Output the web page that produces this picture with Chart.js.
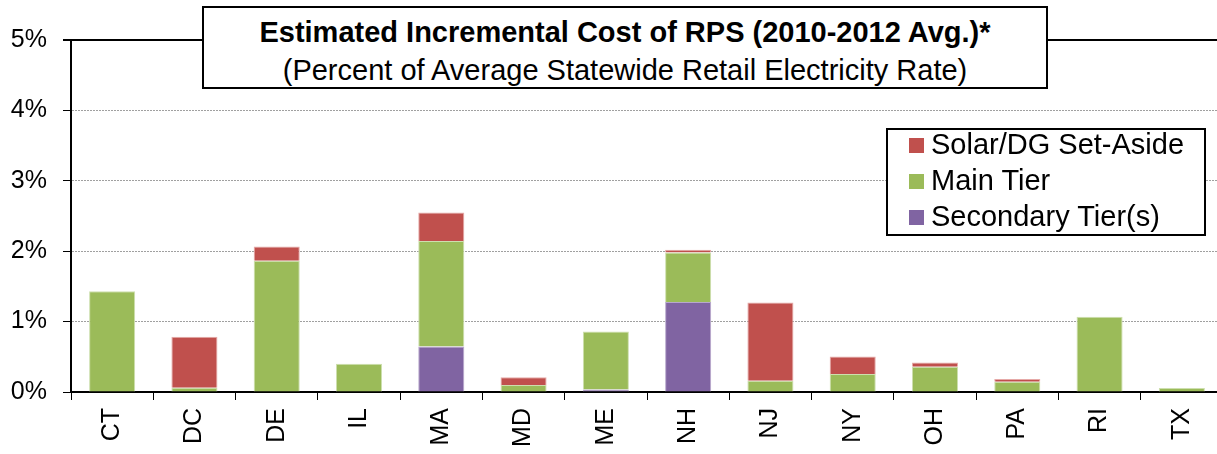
<!DOCTYPE html>
<html lang="en">
<head>
  <meta charset="UTF-8">
  <title>Estimated Incremental Cost of RPS</title>
  <script src="https://cdn.jsdelivr.net/npm/chart.js"></script>
  <style>
    body { margin: 0; overflow: hidden; background: #fff; font-family: 'Liberation Sans', Arial, sans-serif; }
    #wrap { position: relative; width: 1224px; height: 454px; }
    #titleBox {
      position: absolute; left: 202px; top: 6px; width: 842px; height: 79px;
      border: 2px solid #000; background: #fff; text-align: center; color: #000;
    }
    #titleBox .t1 { font-weight: bold; font-size: 29px; line-height: 38px; margin-top: 5px; white-space: nowrap; }
    #titleBox .t2 { font-size: 29px; line-height: 38px; white-space: nowrap; }
    #legendBox {
      position: absolute; left: 886px; top: 128px; width: 316px; height: 104px;
      border: 2px solid #000; background: #fff;
    }
    .item { position: absolute; left: 21px; height: 36px; font-size: 29px; line-height: 36px; color: #000; white-space: nowrap; }
    .item span.sw { display: inline-block; width: 15px; height: 15px; margin-right: 7px; vertical-align: 1px; }
  </style>
</head>
<body>
  <div id="wrap">
    <canvas id="grafica" width="1224" height="454"></canvas>
    <div id="titleBox">
      <div class="t1">Estimated Incremental Cost of RPS (2010-2012 Avg.)*</div>
      <div class="t2">(Percent of Average Statewide Retail Electricity Rate)</div>
    </div>
    <div id="legendBox"></div>
  </div>

  <script>
    // Datos (porcentaje de la tarifa)
    const states = ['CT', 'DC', 'DE', 'IL', 'MA', 'MD', 'ME', 'NH', 'NJ', 'NY', 'OH', 'PA', 'RI', 'TX'];
    const secondaryTier = [0, 0, 0, 0, 0.645, 0, 0.035, 1.28, 0, 0, 0, 0, 0, 0];
    const mainTier = [1.43, 0.06, 1.865, 0.40, 1.50, 0.10, 0.825, 0.70, 0.16, 0.255, 0.36, 0.146, 1.07, 0.057];
    const solarSetAside = [0, 0.725, 0.20, 0, 0.405, 0.11, 0, 0.04, 1.11, 0.25, 0.06, 0.04, 0, 0];
    const yTicks = [0, 1, 2, 3, 4, 5];

    const series = [
      { label: 'Secondary Tier(s)', data: secondaryTier, color: '#8064A2', edge: '#b7a8cc' },
      { label: 'Main Tier', data: mainTier, color: '#9BBB59', edge: '#cddfae' },
      { label: 'Solar/DG Set-Aside', data: solarSetAside, color: '#C0504D', edge: '#e6aaa8' }
    ];

    // Leyenda (orden inverso, como en la figura)
    const legendBox = document.getElementById('legendBox');
    series.slice().reverse().forEach((s, i) => {
      const d = document.createElement('div');
      d.className = 'item';
      d.style.top = (-4 + i * 36) + 'px';
      d.innerHTML = '<span class="sw" style="background:' + s.color + '"></span>' + s.label;
      legendBox.appendChild(d);
    });

    const font = "'Liberation Sans', Arial, sans-serif";

    // Linea superior solida en 5%
    const topLine = {
      id: 'topLine',
      afterDraw(chart) {
        const a = chart.chartArea, c = chart.ctx;
        c.save();
        c.strokeStyle = '#000';
        c.lineWidth = 2;
        c.beginPath();
        c.moveTo(a.left - 8, a.top);
        c.lineTo(a.right, a.top);
        c.stroke();
        c.restore();
      }
    };

    new Chart(document.getElementById('grafica'), {
      type: 'bar',
      data: {
        labels: states,
        datasets: series.map(s => ({
          label: s.label,
          data: s.data.map(v => v || null),
          backgroundColor: s.color,
          borderColor: s.edge,
          borderWidth: 1,
          barPercentage: 0.56,
          categoryPercentage: 1
        }))
      },
      options: {
        responsive: false,
        animation: false,
        layout: { padding: { top: 40, right: 1, left: 0, bottom: 0 } },
        plugins: {
          legend: { display: false },
          title: { display: false },
          tooltip: { enabled: false }
        },
        scales: {
          x: {
            stacked: true,
            offset: true,
            afterFit(scale) { scale.height = 62; },
            grid: { offset: true, drawOnChartArea: false, drawTicks: true, tickLength: 8, tickColor: '#000' },
            border: { color: '#000', width: 2 },
            ticks: {
              color: '#000',
              font: { family: font, size: 25 },
              minRotation: 90,
              maxRotation: 90,
              padding: 8
            }
          },
          y: {
            stacked: true,
            min: 0,
            max: 5,
            afterFit(scale) { scale.width = 71; },
            afterBuildTicks(scale) { scale.ticks = yTicks.map(v => ({ value: v })); },
            grid: {
              color: ctx => ctx.tick && ctx.tick.value > 0 && ctx.tick.value < 5 ? '#a0a0a0' : 'rgba(0,0,0,0)',
              lineWidth: 1,
              tickLength: 8,
              tickColor: '#000'
            },
            border: { color: '#000', width: 2, dash: [2, 1] },
            ticks: {
              color: '#000',
              font: { family: font, size: 25 },
              padding: 16,
              callback: v => v + '%'
            }
          }
        }
      },
      plugins: [topLine]
    });
  </script>
</body>
</html>
